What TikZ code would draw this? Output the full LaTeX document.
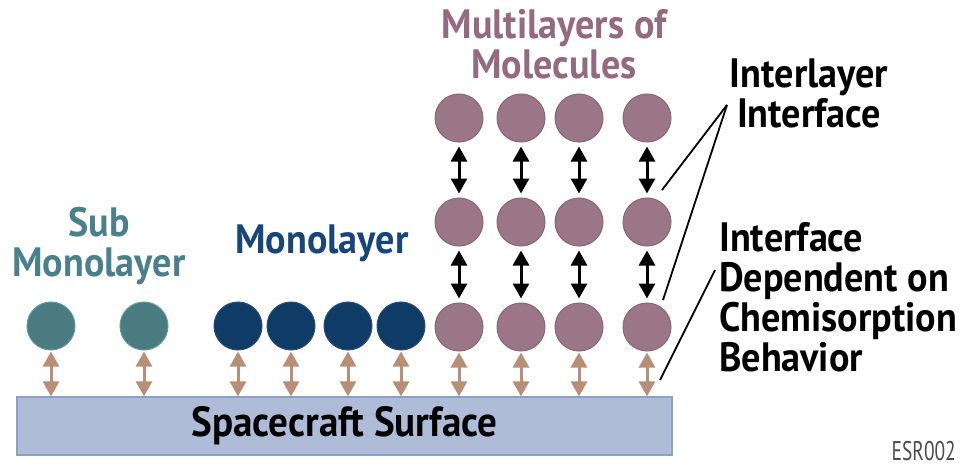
\documentclass[tikz,border=0pt]{standalone}
\usepackage{fontspec}
\setmainfont{PT Sans}[FakeStretch=0.93]
\newfontfamily\thinfont{PT Sans}[FakeStretch=0.72]
\usetikzlibrary{arrows.meta}
\definecolor{tealc}{HTML}{4A7B80}
\definecolor{tealb}{HTML}{5E9AA0}
\definecolor{tealt}{HTML}{4A808C}
\definecolor{bluec}{HTML}{0E3C66}
\definecolor{blueb}{HTML}{2A4E78}
\definecolor{bluet}{HTML}{17477A}
\definecolor{purc}{HTML}{9A7686}
\definecolor{purb}{HTML}{8A6575}
\definecolor{purt}{HTML}{95697E}
\definecolor{brownarr}{HTML}{B88F76}
\definecolor{surff}{HTML}{AEBCD7}
\definecolor{surfb}{HTML}{89A2C6}
\begin{document}
\begin{tikzpicture}[x=1pt,y=-1pt,
  mol/.style={circle,minimum size=48pt,inner sep=0pt,line width=1pt},
  submol/.style={mol,fill=tealc,draw=tealb},
  monomol/.style={mol,fill=bluec,draw=blueb},
  multimol/.style={mol,fill=purc,draw=purb},
  headtip/.tip={Triangle[width=16pt,length=15pt]},
  chemarr/.style={draw=brownarr,line width=3pt,headtip-headtip,shorten <=1pt},
  interarr/.style={draw=black,line width=3pt,headtip-headtip,shorten <=4pt,shorten >=4pt},
  callout/.style={draw=black,line width=1.8pt},
  lbl/.style={font=\bfseries\fontsize{41}{40}\selectfont,inner sep=0pt,align=center},
]
\useasboundingbox (0,0) rectangle (966,468);
% surface
\node[draw=surfb,fill=surff,line width=1.2pt,minimum width=655pt,minimum height=58pt,inner sep=0pt,
  font=\bfseries\fontsize{42}{42}\selectfont] (surf) at (344.5,426) {Spacecraft Surface};
% sub monolayer
\node[submol] (s1) at (51,326) {};
\node[submol] (s2) at (144,326) {};
% monolayer
\node[monomol] (m1) at (238,326) {};
\node[monomol] (m2) at (291,326) {};
\node[monomol] (m3) at (348,326) {};
\node[monomol] (m4) at (401,326) {};
% multilayer
\foreach \c/\x in {1/459,2/521,3/579,4/647}{
  \node[multimol] (a\c) at (\x,118) {};
  \node[multimol] (b\c) at (\x,222) {};
  \node[multimol] (c\c) at (\x,327) {};
}
% chemisorption arrows
\foreach \n in {s1,s2,m1,m2,m3,m4,c1,c2,c3,c4}{
  \draw[chemarr] (\n.south) -- (\n.south |- surf.north);
}
% interlayer arrows
\foreach \c in {1,2,3,4}{
  \draw[interarr] (a\c.south) -- (b\c.north);
  \draw[interarr] (b\c.south) -- (c\c.north);
}
% labels
\node[lbl,text=tealt,anchor=north] (lsub) at (99,207) {Sub\\Monolayer};
\node[lbl,text=bluet,anchor=north] (lmono) at (322,225) {Monolayer};
\node[lbl,text=purt,anchor=north] (lmulti) at (554,9) {Multilayers of\\Molecules};
\node[lbl,anchor=north] (linter) at (809,59) {Interlayer\\Interface};
\node[lbl,anchor=north west,align=left] (ldep) at (719,222) {Interface\\Dependent on\\Chemisorption\\Behavior};
\node[font=\thinfont\fontsize{27}{27}\selectfont,text=black!70,anchor=south east,inner sep=0pt] (esr) at (956,461) {ESR002};
% callout lines
\coordinate (apex) at (727,105);
\coordinate (e1) at (662,190);
\coordinate (e2) at (663,300);
\coordinate (d0) at (715,270);
\coordinate (d1) at (660,380);
\draw[callout] (apex) -- (e1);
\draw[callout] (apex) -- (e2);
\draw[callout] (d0) -- (d1);
\end{tikzpicture}
\end{document}
